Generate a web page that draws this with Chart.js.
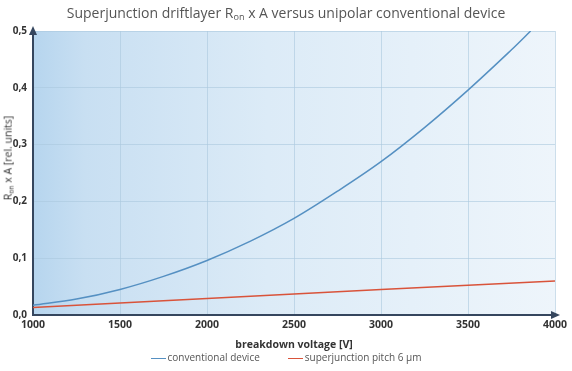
<!DOCTYPE html>
<html>
<head>
<meta charset="utf-8">
<script src="https://cdn.jsdelivr.net/npm/chart.js@4/dist/chart.umd.min.js"></script>
<style>
  html, body { margin: 0; padding: 0; background: #fff; }
  #wrap { position: relative; width: 572px; height: 371px; font-family: "Open Sans", sans-serif; }
  #title { position: absolute; top: 3px; left: 0; width: 572px; text-align: center; font-size: 14px; color: #555; }
  #title sub, #ytitle sub { font-size: 65%; vertical-align: -0.25em; }
  #ytitle { position: absolute; left: 8px; top: 158px; transform: translate(-50%, -50%) rotate(-90deg); white-space: nowrap; font-size: 10.5px; color: #333; }
  #legend { position: absolute; left: 0; top: 350px; width: 572px; text-align: center; font-size: 10px; color: #555; }
  #legend span.item { display: inline-block; margin: 0 14px; }
  #legend span.line { display: inline-block; width: 15px; height: 1.5px; vertical-align: middle; margin-right: 2px; }
  canvas { position: absolute; left: 0; top: 0; }
</style>
</head>
<body>
<div id="wrap">
  <canvas id="chart" width="572" height="371"></canvas>
  <div id="title">Superjunction driftlayer R<sub>on</sub> x A versus unipolar conventional device</div>
  <div id="ytitle">R<sub>on</sub> x A [rel. units]</div>
  <div id="legend"></div>
</div>
<script>
// breakdown voltage [V]
const convVoltage = [1000, 1250, 1500, 1750, 2000, 2250, 2500, 2750, 3000, 3250, 3500, 3750, 3860];
const convValues  = [0.017, 0.028, 0.045, 0.068, 0.096, 0.13, 0.17, 0.218, 0.27, 0.33, 0.396, 0.467, 0.5];
const sjVoltage = [1000, 2000, 3000, 4000];
const sjValues  = [0.013, 0.029, 0.045, 0.06];
const xTicks = [1000, 1500, 2000, 2500, 3000, 3500, 4000];
const yTicks = [0, 0.1, 0.2, 0.3, 0.4, 0.5];

const toPoints = (xs, ys) => xs.map((x, i) => ({ x: x, y: ys[i] }));

const background = {
  id: 'background',
  beforeDraw(chart) {
    const { ctx, chartArea: a } = chart;
    const g = ctx.createLinearGradient(a.left, 0, a.right, 0);
    g.addColorStop(0, '#b6d5ee');
    g.addColorStop(0.1, '#c8dff2');
    g.addColorStop(0.45, '#dcebf7');
    g.addColorStop(1, '#eef5fb');
    ctx.save();
    ctx.fillStyle = g;
    ctx.fillRect(a.left, a.top, a.right - a.left, a.bottom - a.top);
    ctx.restore();
  }
};

const arrows = {
  id: 'arrows',
  afterDraw(chart) {
    const { ctx, chartArea: a } = chart;
    ctx.save();
    ctx.fillStyle = '#35465e';
    ctx.beginPath();
    ctx.moveTo(a.left, a.top - 5);
    ctx.lineTo(a.left - 4, a.top + 4);
    ctx.lineTo(a.left + 4, a.top + 4);
    ctx.closePath();
    ctx.fill();
    ctx.beginPath();
    ctx.moveTo(a.right + 5, a.bottom);
    ctx.lineTo(a.right - 4, a.bottom - 4);
    ctx.lineTo(a.right - 4, a.bottom + 4);
    ctx.closePath();
    ctx.fill();
    ctx.restore();
  }
};

const chart = new Chart(document.getElementById('chart'), {
  type: 'line',
  data: {
    datasets: [
      {
        label: 'conventional device',
        data: toPoints(convVoltage, convValues),
        borderColor: '#5590c2',
        borderWidth: 1.5,
        pointRadius: 0,
        tension: 0.35
      },
      {
        label: 'superjunction pitch 6 µm',
        data: toPoints(sjVoltage, sjValues),
        borderColor: '#d9533a',
        borderWidth: 1.5,
        pointRadius: 0,
        tension: 0.3
      }
    ]
  },
  options: {
    responsive: false,
    animation: false,
    layout: { padding: { top: 31, right: 17, left: 0, bottom: 20 } },
    plugins: {
      title: { display: false },
      tooltip: { enabled: false },
      legend: { display: false }
    },
    scales: {
      x: {
        type: 'linear',
        min: 1000,
        max: 4000,
        afterBuildTicks: s => { s.ticks = xTicks.map(v => ({ value: v })); },
        afterFit: s => { s.height = 36; },
        grid: { color: 'rgba(170,200,222,0.6)', drawTicks: false },
        border: { color: '#35465e', width: 2 },
        ticks: {
          color: '#333',
          padding: 4,
          font: { family: 'Open Sans', size: 10.5, weight: 'bold' },
          callback: v => String(v)
        },
        title: { display: true, text: 'breakdown voltage [V]', color: '#333', padding: { top: 1, bottom: 0 }, font: { family: 'Open Sans', size: 10.5, weight: 'bold' } }
      },
      y: {
        min: 0,
        max: 0.5,
        afterBuildTicks: s => { s.ticks = yTicks.map(v => ({ value: v })); },
        afterFit: s => { s.width = 33; },
        grid: { color: 'rgba(170,200,222,0.6)', drawTicks: false },
        border: { color: '#35465e', width: 2 },
        ticks: {
          color: '#333',
          padding: 6,
          font: { family: 'Open Sans', size: 10, weight: 'bold' },
          callback: v => v.toFixed(1).replace('.', ',')
        }
      }
    }
  },
  plugins: [background, arrows]
});

// legend built from the datasets
document.getElementById('legend').innerHTML = chart.data.datasets.map(d =>
  '<span class="item"><span class="line" style="background:' + d.borderColor + '"></span>' + d.label + '</span>'
).join('');
</script>
</body>
</html>
